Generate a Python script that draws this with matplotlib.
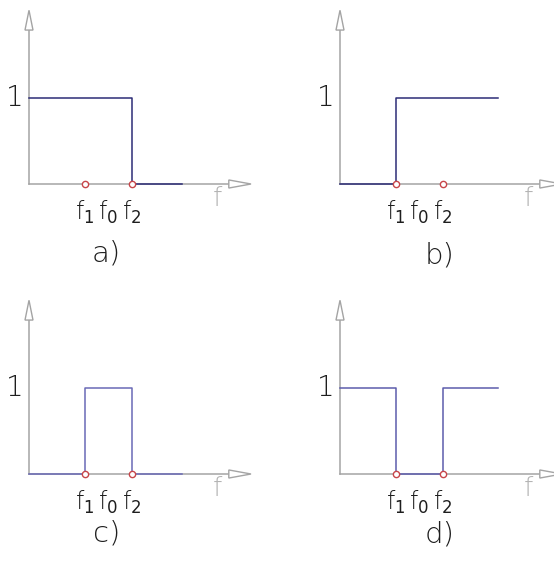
import matplotlib
matplotlib.use("Agg")
import matplotlib.pyplot as plt
from matplotlib.patches import Polygon

# frequency positions (units along the f axis)
f1 = 1.0
f2 = 1.85
f0 = (f1 + f2) / 2
freq_labels = ["f$_1$", "f$_0$", "f$_2$"]
freq_ticks = [f1, f0, f2]

# magnitude responses: low-pass, high-pass, band-pass, band-stop
panels = ["a)", "b)", "c)", "d)"]
resp_x = [
    [0, f2, f2, 2.75],
    [0, f1, f1, 2.85],
    [0, f1, f1, f2, f2, 2.75],
    [0, f1, f1, f2, f2, 1.85, 1.85, 2.85],
]
resp_y = [
    [1, 1, 0, 0],
    [0, 0, 1, 1],
    [0, 0, 1, 1, 0, 0],
    [1, 1, 0, 0, 1, 1, 1, 1],
]
marks = [[f1, f2], [f1, f2], [f1, f2], [f1, f2]]
line_colors = ["#2c2c76", "#2c2c76", "#6a6ab6", "#5c5cac"]

W, H = 554, 561
px_x, px_y = 55.5, 86.0   # pixels per unit
# panel boxes in pixels (left, top, width, height) and origin offsets inside them
boxes = [(0, 0, 277, 280), (277, 0, 277, 280), (0, 280, 277, 281), (277, 280, 277, 281)]
origins = [(29, 184), (63, 184), (29, 194), (63, 194)]
caption_x = [1.4, 1.79, 1.4, 1.79]
caption_y = [-0.81, -0.83, -0.69, -0.70]

axis_col = "#a4a4a4"
text_col = "#1e1e1e"
font = dict(fontweight="light", color=text_col)

fig = plt.figure(figsize=(W / 100, H / 100), dpi=100)

for i in range(4):
    left, top, bw, bh = boxes[i]
    ox, oy = origins[i]
    ax = fig.add_axes([left / W, 1 - (top + bh) / H, bw / W, bh / H])
    ax.set_xlim(-ox / px_x, (bw - ox) / px_x)
    ax.set_ylim(-(bh - oy) / px_y, oy / px_y)
    ax.axis("off")

    # f axis with open arrow head
    ax.plot([0, 3.6], [0, 0], color=axis_col, lw=1.1, zorder=1)
    ax.add_patch(Polygon([[3.6, 0.047], [4.0, 0], [3.6, -0.047]], closed=True,
                         facecolor="white", edgecolor=axis_col, lw=1.0, clip_on=False))
    # vertical axis with open arrow head
    ax.plot([0, 0], [0, 1.79], color=axis_col, lw=1.1, zorder=1)
    ax.add_patch(Polygon([[-0.072, 1.79], [0, 2.02], [0.072, 1.79]], closed=True,
                         facecolor="white", edgecolor=axis_col, lw=1.0))

    ax.plot(resp_x[i], resp_y[i], color=line_colors[i], lw=1.1, zorder=2)
    ax.plot(marks[i], [0] * len(marks[i]), "o", ms=4.5, mfc="white",
            mec="#c8464a", mew=1.0, zorder=3)

    ax.text(-0.1, 1, "1", ha="right", va="center", fontsize=20, **font)
    for xt, lab in zip(freq_ticks, freq_labels):
        ax.text(xt, -0.17, lab, ha="center", va="top", fontsize=17, **font)
    ax.text(3.39, -0.17, "f", ha="center", va="center", fontsize=19,
            color="#b4b4b4", fontweight="light")
    ax.text(caption_x[i], caption_y[i], panels[i], ha="center", va="center",
            fontsize=21, **font)

fig.savefig("out.png", dpi=100)
